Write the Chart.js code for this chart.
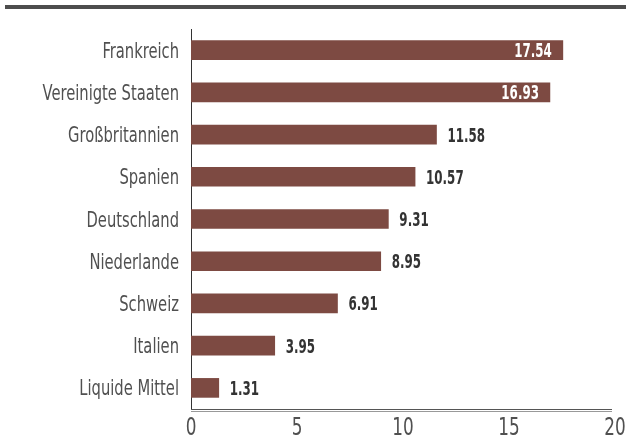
<!DOCTYPE html>
<html>
<head>
<meta charset="utf-8">
<script src="https://cdn.jsdelivr.net/npm/chart.js@4/dist/chart.umd.min.js"></script>
<style>
  html, body { margin: 0; padding: 0; background: #fff; }
  #wrap { width: 626px; height: 445px; position: relative; }
</style>
</head>
<body>
<div id="wrap"><canvas id="grafico"></canvas></div>
<script>
// dati
const categorie = ["Frankreich", "Vereinigte Staaten", "Großbritannien", "Spanien", "Deutschland", "Niederlande", "Schweiz", "Italien", "Liquide Mittel"];
const valori = [17.54, 16.93, 11.58, 10.57, 9.31, 8.95, 6.91, 3.95, 1.31];
const tickAsseX = [0, 5, 10, 15, 20];

const FONT = "'DejaVu Sans Condensed', 'DejaVu Sans', sans-serif";
const COLORE_BARRA = "#7d4a42";
const COLORE_TESTO = "#505050";

// scrive un testo compresso in orizzontale (il font originale e' molto stretto)
function testoStretto(ctx, testo, x, y, allineamento, fattore) {
  ctx.save();
  ctx.translate(x, y);
  ctx.scale(fattore, 1);
  ctx.textAlign = allineamento;
  ctx.textBaseline = "alphabetic";
  ctx.fillText(testo, 0, 0);
  ctx.restore();
}

// linea spessa in alto + doppia linea dell'asse x
const decorazioni = {
  id: "decorazioni",
  beforeDraw(chart) {
    const ctx = chart.ctx;
    ctx.save();
    ctx.fillStyle = "#4d4d4d";
    ctx.fillRect(5, 5, 621, 4);
    ctx.restore();
  },
  afterDraw(chart) {
    const ctx = chart.ctx;
    const area = chart.chartArea;
    ctx.save();
    ctx.lineWidth = 1;
    ctx.strokeStyle = "#555";
    ctx.beginPath();
    ctx.moveTo(area.left, area.bottom + 0.5);
    ctx.lineTo(612, area.bottom + 0.5);
    ctx.stroke();
    ctx.strokeStyle = "#999";
    ctx.beginPath();
    ctx.moveTo(area.left, area.bottom + 2.5);
    ctx.lineTo(612, area.bottom + 2.5);
    ctx.stroke();
    ctx.restore();
  }
};

// etichette degli assi disegnate a mano con il font compresso
const etichetteAssi = {
  id: "etichetteAssi",
  afterDraw(chart) {
    const ctx = chart.ctx;
    const scalaX = chart.scales.x;
    const scalaY = chart.scales.y;
    ctx.save();
    ctx.fillStyle = COLORE_TESTO;
    ctx.font = "21px " + FONT;
    categorie.forEach(function (c, i) {
      const y = scalaY.getPixelForValue(i);
      testoStretto(ctx, c, chart.chartArea.left - 12, y + 7.5, "right", 0.78);
    });
    ctx.font = "24px " + FONT;
    tickAsseX.forEach(function (v) {
      const x = scalaX.getPixelForValue(v);
      testoStretto(ctx, String(v), x, 435, "center", 0.78);
    });
    ctx.restore();
  }
};

// etichette dei valori alla fine delle barre
const etichetteValori = {
  id: "etichetteValori",
  afterDatasetsDraw(chart) {
    const ctx = chart.ctx;
    const meta = chart.getDatasetMeta(0);
    ctx.save();
    ctx.font = "bold 20px " + FONT;
    meta.data.forEach(function (barra, i) {
      const v = valori[i];
      const testo = v.toFixed(2);
      if (v > 15) {
        ctx.fillStyle = "#ffffff";
        testoStretto(ctx, testo, barra.x - 11, barra.y + 7, "right", 0.66);
      } else {
        ctx.fillStyle = "#333333";
        testoStretto(ctx, testo, barra.x + 11, barra.y + 7, "left", 0.66);
      }
    });
    ctx.restore();
  }
};

new Chart(document.getElementById("grafico"), {
  type: "bar",
  data: {
    labels: categorie,
    datasets: [{
      data: valori,
      backgroundColor: COLORE_BARRA,
      borderWidth: 0,
      barThickness: 19
    }]
  },
  options: {
    indexAxis: "y",
    responsive: true,
    maintainAspectRatio: false,
    animation: false,
    layout: { padding: { top: 29, right: 11, left: 0, bottom: 0 } },
    plugins: {
      legend: { display: false },
      tooltip: { enabled: false }
    },
    scales: {
      x: {
        min: 0,
        max: 20,
        afterFit(scale) { scale.height = 36; },
        grid: { display: false, drawTicks: false },
        border: { display: false },
        ticks: { display: false, stepSize: 5 }
      },
      y: {
        afterFit(scale) { scale.width = 191; },
        grid: { display: false, drawTicks: false },
        border: { display: true, color: "#333", width: 1 },
        ticks: { display: false }
      }
    }
  },
  plugins: [decorazioni, etichetteValori, etichetteAssi]
});
</script>
</body>
</html>
